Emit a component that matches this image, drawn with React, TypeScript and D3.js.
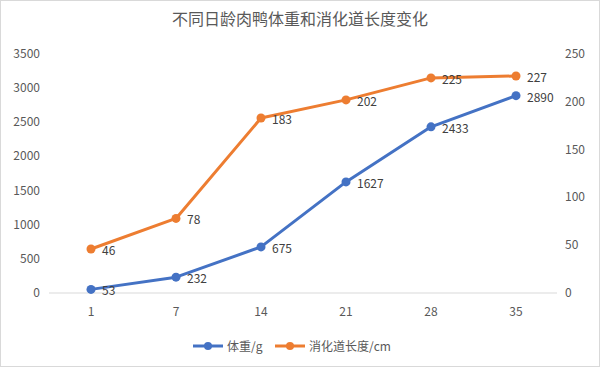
import * as d3 from 'd3';

const days = ['1', '7', '14', '21', '28', '35'];
const weight = [53, 232, 675, 1627, 2433, 2890];
const gutLength = [46, 78, 183, 202, 225, 227];
const leftTicks = [0, 500, 1000, 1500, 2000, 2500, 3000, 3500];
const rightTicks = [0, 50, 100, 150, 200, 250];

const title = '不同日龄肉鸭体重和消化道长度变化';
const seriesNames = ['体重/g', '消化道长度/cm'];

export default function App() {
  const width = 600;
  const height = 367;
  const top = 54;
  const bottom = 293;

  const x = d3.scalePoint<string>().domain(days).range([91, 516]);
  const yLeft = d3.scaleLinear().domain([0, 3500]).range([bottom, top]);
  const yRight = d3.scaleLinear().domain([0, 250]).range([bottom, top]);

  const blue = '#4472c4';
  const orange = '#ed7d31';
  const textColor = '#595959';
  const font = '"Noto Sans CJK SC", "DejaVu Sans", sans-serif';

  const lineW = d3
    .line<number>()
    .x((_, i) => x(days[i]) as number)
    .y((d) => yLeft(d));
  const lineG = d3
    .line<number>()
    .x((_, i) => x(days[i]) as number)
    .y((d) => yRight(d));

  return (
    <svg
      width={width}
      height={height}
      style={{ position: 'absolute', left: 0, top: 0, background: '#fff' }}
      fontFamily={font}
    >
      <rect x={0.5} y={0.5} width={width - 1} height={height - 1} fill="none" stroke="#d9d9d9" />
      <text x={300} y={25} textAnchor="middle" fontSize={16} fill={textColor}>
        {title}
      </text>

      {leftTicks.map((t) => (
        <text key={'l' + t} x={40} y={yLeft(t) + 4} textAnchor="end" fontSize={12} fill={textColor}>
          {t}
        </text>
      ))}
      {rightTicks.map((t) => (
        <text key={'r' + t} x={565} y={yRight(t) + 4} textAnchor="start" fontSize={12} fill={textColor}>
          {t}
        </text>
      ))}
      <line x1={49} x2={557} y1={bottom} y2={bottom} stroke="#d9d9d9" />
      {days.map((d) => (
        <text key={'x' + d} x={x(d)} y={bottom + 23} textAnchor="middle" fontSize={12} fill={textColor}>
          {d}
        </text>
      ))}

      <path d={lineG(gutLength) || ''} fill="none" stroke={orange} strokeWidth={3} strokeLinejoin="round" />
      <path d={lineW(weight) || ''} fill="none" stroke={blue} strokeWidth={3} strokeLinejoin="round" />

      {gutLength.map((v, i) => (
        <g key={'g' + i}>
          <circle cx={x(days[i])} cy={yRight(v)} r={4.5} fill={orange} />
          <text x={(x(days[i]) as number) + 11} y={yRight(v) + 6} fontSize={12} fill="#404040">
            {v}
          </text>
        </g>
      ))}
      {weight.map((v, i) => (
        <g key={'w' + i}>
          <circle cx={x(days[i])} cy={yLeft(v)} r={4.5} fill={blue} />
          <text x={(x(days[i]) as number) + 11} y={yLeft(v) + 6} fontSize={12} fill="#404040">
            {v}
          </text>
        </g>
      ))}

      <g transform="translate(193,346)">
        <line x1={0} x2={30} y1={0} y2={0} stroke={blue} strokeWidth={3} />
        <circle cx={15} cy={0} r={4} fill={blue} />
        <text x={34} y={5} fontSize={12} fill={textColor}>
          {seriesNames[0]}
        </text>
        <line x1={82} x2={112} y1={0} y2={0} stroke={orange} strokeWidth={3} />
        <circle cx={97} cy={0} r={4} fill={orange} />
        <text x={116} y={5} fontSize={12} fill={textColor}>
          {seriesNames[1]}
        </text>
      </g>
    </svg>
  );
}
